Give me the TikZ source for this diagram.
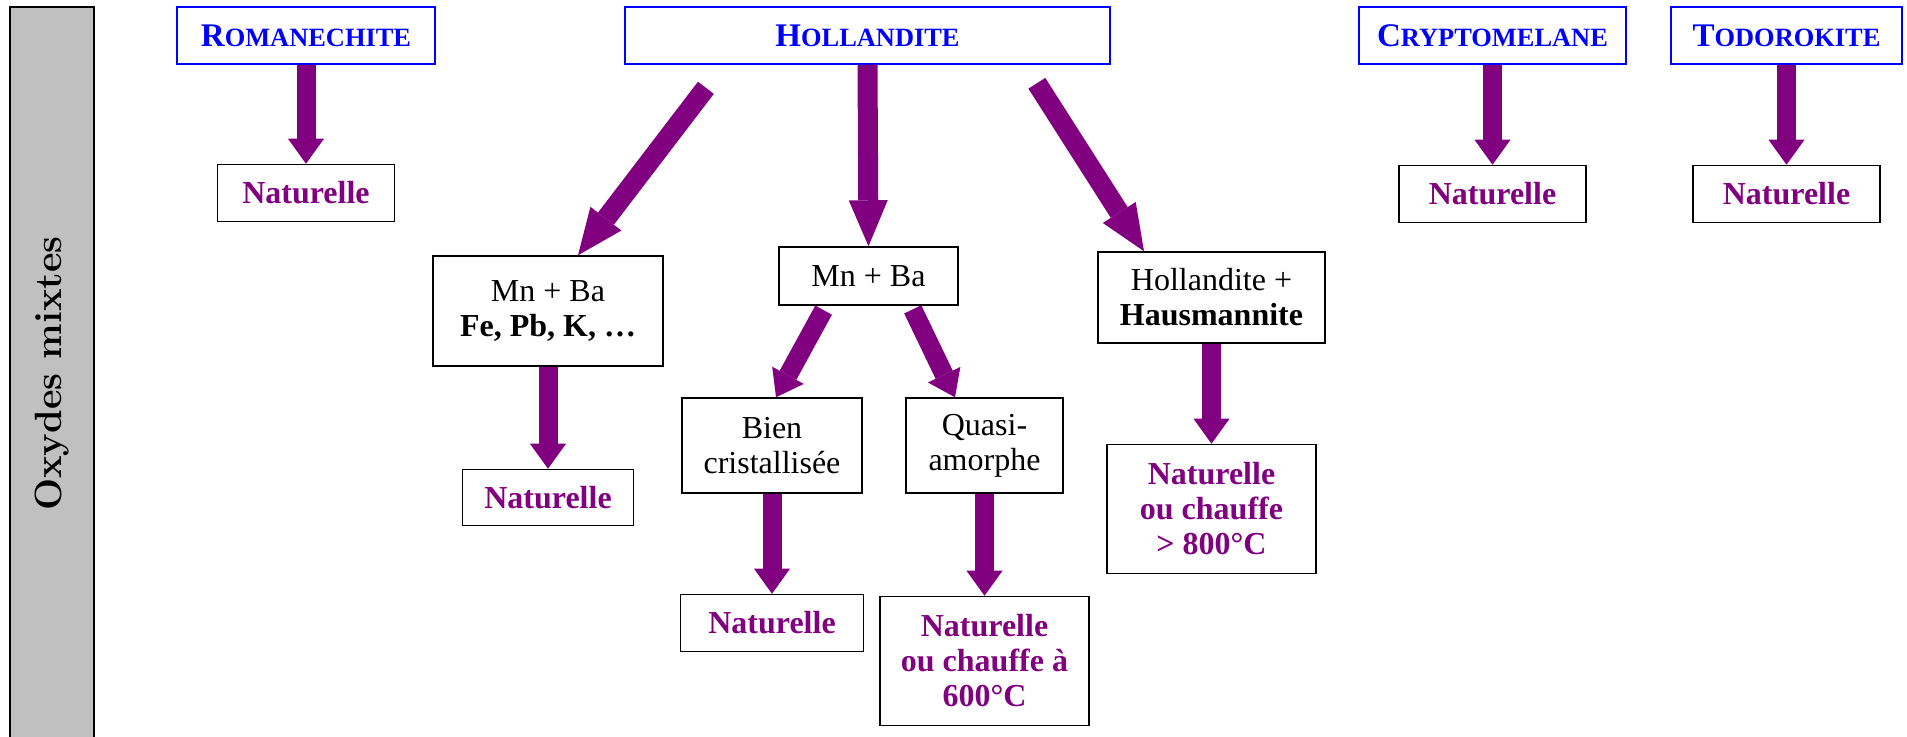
\documentclass[tikz,border=0pt]{standalone}
\usepackage{fontspec}
\usepackage{tikz}
\usetikzlibrary{arrows.meta, positioning, calc}
\newfontfamily\timesfont{Liberation Serif}
\definecolor{flowcolor}{RGB}{128,0,128}
\definecolor{headcolor}{RGB}{0,0,255}
\definecolor{barcolor}{RGB}{192,192,192}
\newcommand{\fakesc}[2]{{\fontsize{16.5}{18}\selectfont #1}{\fontsize{13.2}{18}\selectfont #2}}

\begin{document}
\begin{tikzpicture}[
    x=0.5pt, y=-0.5pt,
    every node/.style={font=\timesfont\fontsize{16}{17.5}\selectfont},
    headbox/.style={draw=headcolor, line width=0.75pt, text=headcolor, font=\timesfont\bfseries, minimum height=28.5pt, inner sep=0pt},
    box/.style={draw, line width=0.75pt, inner sep=0pt, align=center},
    natbox/.style={box, text=flowcolor, font=\timesfont\bfseries\fontsize{16}{17.5}\selectfont},
    flow/.style={draw=flowcolor, line width=9.5pt, -{Triangle[length=12.5pt, width=18pt, line width=0pt]}},
    bigflow/.style={draw=flowcolor, line width=10pt, -{Triangle[length=23pt, width=19.5pt, line width=0pt]}},
]
    \useasboundingbox (0,0) rectangle (1907,737);

    % side label
    \node[draw, line width=0.75pt, fill=barcolor, rotate=90, minimum width=366.5pt, minimum height=42pt, inner sep=0pt, font=\bfseries\fontsize{19}{22}\selectfont] (bar) at (52,373.5) {Oxydes mixtes};

    % mineral names
    \node[headbox, minimum width=129pt] (rom) at (306,35.5) {\fakesc{R}{OMANECHITE}};
    \node[headbox, minimum width=242.5pt] (hol) at (867.5,35.5) {\fakesc{H}{OLLANDITE}};
    \node[headbox, minimum width=133.5pt] (cry) at (1492.5,35.5) {\fakesc{C}{RYPTOMELANE}};
    \node[headbox, minimum width=115.5pt] (tod) at (1786.5,35.5) {\fakesc{T}{ODOROKITE}};

    \node[natbox, minimum width=88.5pt, minimum height=28.5pt, below=49.5pt of rom] (natrom) {Naturelle};
    \node[natbox, minimum width=93.5pt, minimum height=28.5pt, below=50pt of cry] (natcry) {Naturelle};
    \node[natbox, minimum width=93.5pt, minimum height=28.5pt, below=50pt of tod] (nattod) {Naturelle};

    % hollandite branches
    \node[box, minimum width=115pt, minimum height=55pt] (mixed) at (548,311) {Mn + Ba\\\textbf{Fe, Pb, K, …}};
    \node[box, minimum width=89.5pt, minimum height=29pt] (mnba) at (868.5,276) {Mn + Ba};
    \node[box, minimum width=113.5pt, minimum height=45.5pt] (haus) at (1211.5,297.5) {Hollandite +\\\textbf{Hausmannite}};

    \node[natbox, minimum width=85.5pt, minimum height=28pt, below=51pt of mixed] (natmixed) {Naturelle};
    \node[box, minimum width=90pt, minimum height=47.5pt] (bien) at (772,445.5) {Bien\\cristallisée};
    \node[box, minimum width=78.5pt, minimum height=47.5pt] (quasi) at (984.5,445.5) {Quasi-\\amorphe};
    \node[natbox, minimum width=104.5pt, minimum height=64.5pt, below=50pt of haus] (heat800) {Naturelle\\ou chauffe\\> 800°C};

    \node[natbox, minimum width=91.5pt, minimum height=28.5pt, below=50pt of bien] (natbien) {Naturelle};
    \node[natbox, minimum width=104.5pt, minimum height=64.5pt, below=51pt of quasi] (heat600) {Naturelle\\ou chauffe à\\600°C};

    % arrows
    \draw[flow] (rom.south) -- (natrom.north);
    \draw[flow] (cry.south) -- (natcry.north);
    \draw[flow] (tod.south) -- (nattod.north);
    \draw[bigflow, shorten <=14.5pt] ($(hol.south)+(-144,0)$) -- ($(mixed.north)+(30,0)$);
    \draw[bigflow] (hol.south) -- (mnba.north);
    \draw[bigflow, shorten <=11pt] ($(hol.south)+(157.5,0)$) -- ($(haus.north)+(-67.5,0)$);
    \draw[flow] (mixed.south) -- (natmixed.north);
    \draw[flow, shorten <=2.5pt] ($(mnba.south)+(-42.5,0)$) -- ($(bien.north)+(4,0)$);
    \draw[flow, shorten <=2pt] ($(mnba.south)+(42.5,0)$) -- ($(quasi.north)+(-29.5,0)$);
    \draw[flow] (haus.south) -- (heat800.north);
    \draw[flow] (bien.south) -- (natbien.north);
    \draw[flow] (quasi.south) -- (heat600.north);
\end{tikzpicture}
\end{document}
